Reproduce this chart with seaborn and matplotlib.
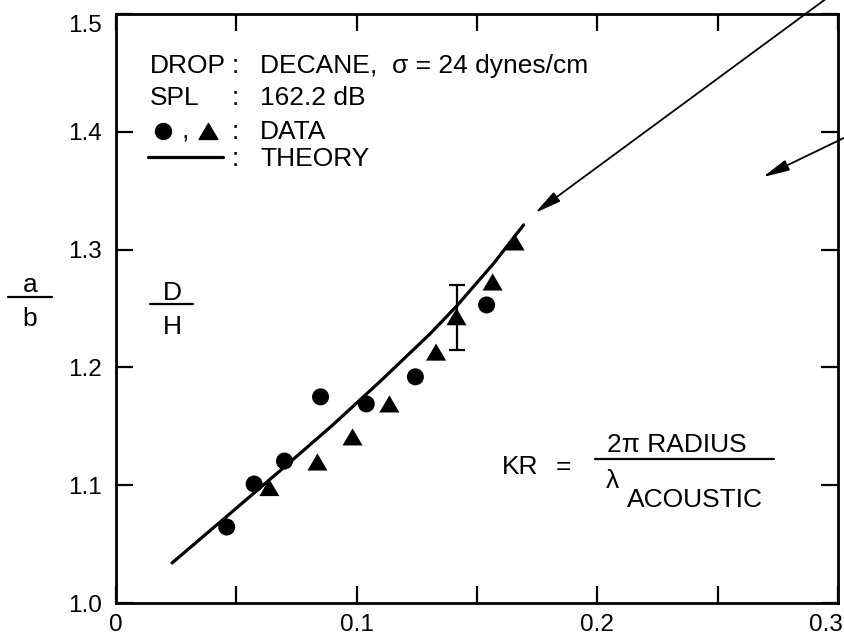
import numpy as np
import pandas as pd
import matplotlib
matplotlib.use("Agg")
import matplotlib.pyplot as plt
import seaborn as sns
from matplotlib.transforms import Affine2D, ScaledTranslation
from matplotlib.lines import Line2D
from matplotlib.path import Path

# ---------------- data ----------------
circle_kr = [0.046, 0.0574, 0.070, 0.085, 0.104, 0.1244, 0.154]
circle_ratio = [1.0645, 1.101, 1.1205, 1.175, 1.169, 1.192, 1.253]

triangle_kr = [0.0637, 0.0837, 0.0983, 0.1136, 0.133, 0.1415, 0.1565, 0.1656]
triangle_ratio = [1.098, 1.1197, 1.141, 1.169, 1.213, 1.243, 1.2725, 1.3065]

errbar_kr = [0.1415]
errbar_ratio = [1.243]
errbar_low = [1.215]
errbar_high = [1.270]

theory_kr = [0.0233, 0.046, 0.070, 0.090, 0.1097, 0.1305, 0.1415, 0.1566, 0.1694]
theory_ratio = [1.034, 1.0735, 1.1155, 1.151, 1.188, 1.2285, 1.252, 1.2875, 1.321]

x_ticks = [0.0, 0.05, 0.1, 0.15, 0.2, 0.25, 0.3]
x_tick_labels = ["0", "", "0.1", "", "0.2", "", "0.3"]
y_ticks = [1.0, 1.1, 1.2, 1.3, 1.4, 1.5]
y_tick_labels = ["1.0", "1.1", "1.2", "1.3", "1.4", "1.5"]

# ---------------- style ----------------
sns.set_theme(style="ticks")
plt.rcParams["font.family"] = ["Liberation Sans", "DejaVu Sans"]

W, H = 845, 640
fig = plt.figure(figsize=(W / 100, H / 100), dpi=100)
ax = fig.add_axes([116 / W, 1 - 603 / H, (838 - 116) / W, (603 - 14) / H])
PX = Affine2D().scale(1 / W, -1 / H).translate(0, 1) + fig.transFigure

theory_df = pd.DataFrame({"kr": theory_kr, "ratio": theory_ratio})
circ_df = pd.DataFrame({"kr": circle_kr, "ratio": circle_ratio})
tri_df = pd.DataFrame({"kr": triangle_kr, "ratio": triangle_ratio})

sns.lineplot(data=theory_df, x="kr", y="ratio", ax=ax, color="black",
             lw=2.3, sort=False, estimator=None)

tri_path = Path([(-1, -0.85), (1, -0.85), (0, 0.85), (-1, -0.85)],
                [Path.MOVETO, Path.LINETO, Path.LINETO, Path.CLOSEPOLY])

sns.scatterplot(data=circ_df, x="kr", y="ratio", ax=ax, marker="o", s=150,
                color="black", edgecolor="none", zorder=3)
sns.scatterplot(data=tri_df, x="kr", y="ratio", ax=ax, marker=tri_path, s=210,
                color="black", edgecolor="none", zorder=3)

yerr = [[errbar_ratio[0] - errbar_low[0]], [errbar_high[0] - errbar_ratio[0]]]
ax.errorbar(errbar_kr, errbar_ratio, yerr=yerr, fmt="none", ecolor="black",
            elinewidth=1.6, capsize=6, capthick=1.6, zorder=2)

ax.set_xlim(0, 0.3)
ax.set_ylim(1.0, 1.5)
ax.set_xticks(x_ticks)
ax.set_xticklabels(x_tick_labels)
ax.set_yticks(y_ticks)
ax.set_yticklabels(y_tick_labels)
ax.set_xlabel("")
ax.set_ylabel("")
ax.tick_params(direction="in", length=12, width=1.6, top=True, right=True,
               labelsize=17.5, colors="black")
ax.tick_params(axis="x", pad=8)
ax.tick_params(axis="y", pad=10)
for sp in ax.spines.values():
    sp.set_visible(True)
    sp.set_linewidth(2.0)
    sp.set_color("black")
ax.set_facecolor("white")
fig.patch.set_facecolor("white")

# small nudges of edge tick labels, as in the reference
xt = ax.get_xticklabels()
xt[-1].set_transform(xt[-1].get_transform() + ScaledTranslation(-12 / 100, 0, fig.dpi_scale_trans))
yt = ax.get_yticklabels()
yt[-1].set_transform(yt[-1].get_transform() + ScaledTranslation(0, -10 / 100, fig.dpi_scale_trans))

# ---------------- arrows ----------------
arrow_kw = dict(arrowstyle="-|>,head_length=0.8,head_width=0.17", mutation_scale=20,
                lw=1.3, color="black", shrinkA=0, shrinkB=0)
ax.annotate("", xy=(0.1741, 1.3311), xytext=(0.300, 1.5204), xycoords="data",
            arrowprops=arrow_kw, annotation_clip=False)
ax.annotate("", xy=(0.2688, 1.3616), xytext=(0.305, 1.3973), xycoords="data",
            arrowprops=arrow_kw, annotation_clip=False)

# ---------------- texts ----------------
FS = 19


def T(px, py, s, ha="left", va="baseline", fs=FS):
    fig.text(px, py, s, transform=PX, ha=ha, va=va, fontsize=fs, color="black")


def L(x0, x1, y, lw=2.0):
    fig.add_artist(Line2D([x0, x1], [y, y], transform=PX, color="black", lw=lw))


# legend block
T(150, 73, "DROP")
T(235, 73, ":", ha="center")
T(260, 73, "DECANE,  σ = 24 dynes/cm")
T(150, 105, "SPL")
T(235, 105, ":", ha="center")
T(260, 105, "162.2 dB")
fig.add_artist(Line2D([163], [131], transform=PX, marker="o", markersize=11.5,
                      color="black", linestyle="none"))
T(185, 139, ",", ha="center")
fig.add_artist(Line2D([208], [131], transform=PX, marker=tri_path, markersize=13.5,
                      color="black", linestyle="none"))
T(235, 139, ":", ha="center")
T(260, 139, "DATA")
L(148, 223, 157, lw=2.3)
T(235, 166, ":", ha="center")
T(260, 166, "THEORY")

# a / b
T(30, 292, "a", ha="center")
L(8, 52, 297, lw=1.6)
T(30, 326, "b", ha="center")

# D / H
T(172, 300, "D", ha="center")
L(150, 193, 304, lw=1.6)
T(172, 334, "H", ha="center")

# KR formula
T(502, 474, "KR")
T(563, 474, "=", ha="center")
L(595, 774, 459, lw=1.6)
T(677, 452, "2π RADIUS", ha="center")
T(612, 488, "λ", ha="center")
T(627, 507, "ACOUSTIC")

fig.savefig("out.png", dpi=100, facecolor="white")
